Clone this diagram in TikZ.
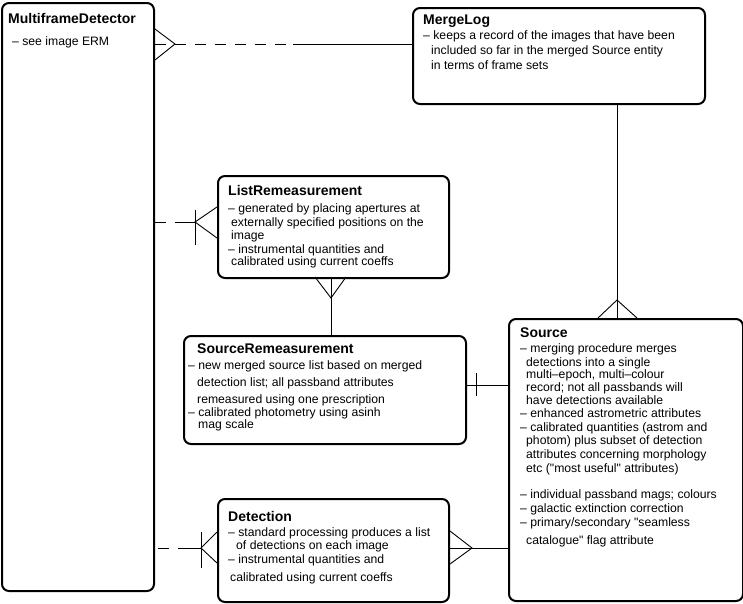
\documentclass[tikz,border=0pt]{standalone}
\usepackage{fontspec}
\setmainfont{Liberation Sans}[Ligatures=TeXOff]
\begin{document}
\begin{tikzpicture}[x=1pt,y=-1pt,
  box/.style={draw,line width=2pt,rounded corners=7pt,inner sep=0pt},
  ttl/.style={anchor=base west,inner sep=0pt,font=\fontsize{14}{16}\selectfont\bfseries},
  txt/.style={anchor=base west,inner sep=0pt,font=\fontsize{12.2}{14}\selectfont},
  conn/.style={line width=0.9pt},
  dsh/.style={line width=0.9pt,dash pattern=on 11pt off 9pt}]
\useasboundingbox (0,0) rectangle (743,603);
% boxes
\node[box,minimum width=152pt,minimum height=588pt,anchor=north west] (mfd) at (1,2) {};
\node[box,minimum width=292pt,minimum height=96pt,anchor=north west] (ml) at (412,7) {};
\node[box,minimum width=231pt,minimum height=102pt,anchor=north west] (lr) at (217,175) {};
\node[box,minimum width=282pt,minimum height=108pt,anchor=north west] (sr) at (183,335) {};
\node[box,minimum width=234pt,minimum height=282pt,anchor=north west] (src) at (508,318) {};
\node[box,minimum width=231pt,minimum height=103pt,anchor=north west] (det) at (217,498) {};
% texts
\node[ttl] (t1) at (8,23) {MultiframeDetector};
\node[txt] (t1a) at (12,45) {– see image ERM};
\node[ttl] (t2) at (423,24) {MergeLog};
\node[txt] (t2a) at (423,39) {– keeps a record of the images that have been};
\node[txt] (t2b) at (431,54) {included so far in the merged Source entity};
\node[txt] (t2c) at (431,69) {in terms of frame sets};
\node[ttl] (t3) at (228,195) {ListRemeasurement};
\node[txt] (t3a) at (228,212) {– generated by placing apertures at};
\node[txt] (t3b) at (231,226) {externally specified positions on the};
\node[txt] (t3c) at (231,239) {image};
\node[txt] (t3d) at (228,253) {– instrumental quantities and};
\node[txt] (t3e) at (231,265) {calibrated using current coeffs};
\node[ttl] (t4) at (197,353) {SourceRemeasurement};
\node[txt] (t4a) at (188,369) {– new merged source list based on merged};
\node[txt] (t4b) at (197,386) {detection list; all passband attributes};
\node[txt] (t4c) at (197,403) {remeasured using one prescription};
\node[txt] (t4d) at (188,416) {– calibrated photometry using asinh};
\node[txt] (t4e) at (198,428.5) {mag scale};
\node[ttl] (t5) at (520,337) {Source};
\node[txt] (t5a) at (520,352) {– merging procedure merges};
\node[txt] (t5b) at (526,366) {detections into a single};
\node[txt] (t5c) at (526,378) {multi–epoch, multi–colour};
\node[txt] (t5d) at (526,391) {record; not all passbands will};
\node[txt] (t5e) at (526,404) {have detections available};
\node[txt] (t5f) at (520,417) {– enhanced astrometric attributes};
\node[txt] (t5g) at (520,431) {– calibrated quantities (astrom and};
\node[txt] (t5h) at (526,444) {photom) plus subset of detection};
\node[txt] (t5i) at (526,458) {attributes concerning morphology};
\node[txt] (t5j) at (526,472) {etc ("most useful" attributes)};
\node[txt] (t5k) at (520,498) {– individual passband mags; colours};
\node[txt] (t5l) at (520,512) {– galactic extinction correction};
\node[txt] (t5m) at (520,526) {– primary/secondary "seamless};
\node[txt] (t5n) at (526,544) {catalogue" flag attribute};
\node[ttl] (t6) at (228,521) {Detection};
\node[txt] (t6a) at (228,536) {– standard processing produces a list};
\node[txt] (t6b) at (236,549) {of detections on each image};
\node[txt] (t6c) at (228,563) {– instrumental quantities and};
\node[txt] (t6d) at (230,581) {calibrated using current coeffs};
% connector coordinates
\coordinate (a1) at (293,44);
\coordinate (a2) at (175,44);
\coordinate (b1) at (195,222);
\coordinate (b2) at (183,222);
\coordinate (c1) at (331,298);
\coordinate (d1) at (476,385);
\coordinate (e1) at (617,300);
\coordinate (f1) at (201,548);
\coordinate (f2) at (183,548);
\coordinate (g1) at (472,548);
% MFD -- MergeLog
\draw[dsh] (mfd.east |- a1) -- (a1);
\draw[conn] (a1) -- (ml.west |- a1);
\draw[conn] (mfd.east |- 0,29) -- (a2) -- (mfd.east |- 0,60);
% MFD -- ListRemeasurement
\draw[dsh] (mfd.east |- b1) -- (b2);
\draw[conn] (b2) -- (b1);
\draw[conn] (b1 |- 0,210) -- (b1 |- 0,245);
\draw[conn] (lr.west |- 0,207) -- (b1) -- (lr.west |- 0,238);
% ListRem -- SourceRem
\draw[conn] (c1 |- lr.south) -- (sr.north -| c1);
\draw[conn] (315,277) -- (c1) -- (346,277);
% SourceRem -- Source
\draw[conn] (sr.east |- d1) -- (src.west |- d1);
\draw[conn] (d1 |- 0,373) -- (d1 |- 0,396);
% MergeLog -- Source
\draw[conn] (e1 |- ml.south) -- (src.north -| e1);
\draw[conn] (598,318) -- (e1) -- (637,318);
% MFD -- Detection
\draw[dsh] (158,548) -- (f2);
\draw[conn] (f2) -- (f1);
\draw[conn] (f1 |- 0,532) -- (f1 |- 0,568);
\draw[conn] (det.west |- 0,532) -- (f1) -- (det.west |- 0,563);
% Detection -- Source
\draw[conn] (det.east |- g1) -- (src.west |- g1);
\draw[conn] (det.east |- 0,531) -- (g1) -- (det.east |- 0,564);
\end{tikzpicture}
\end{document}
